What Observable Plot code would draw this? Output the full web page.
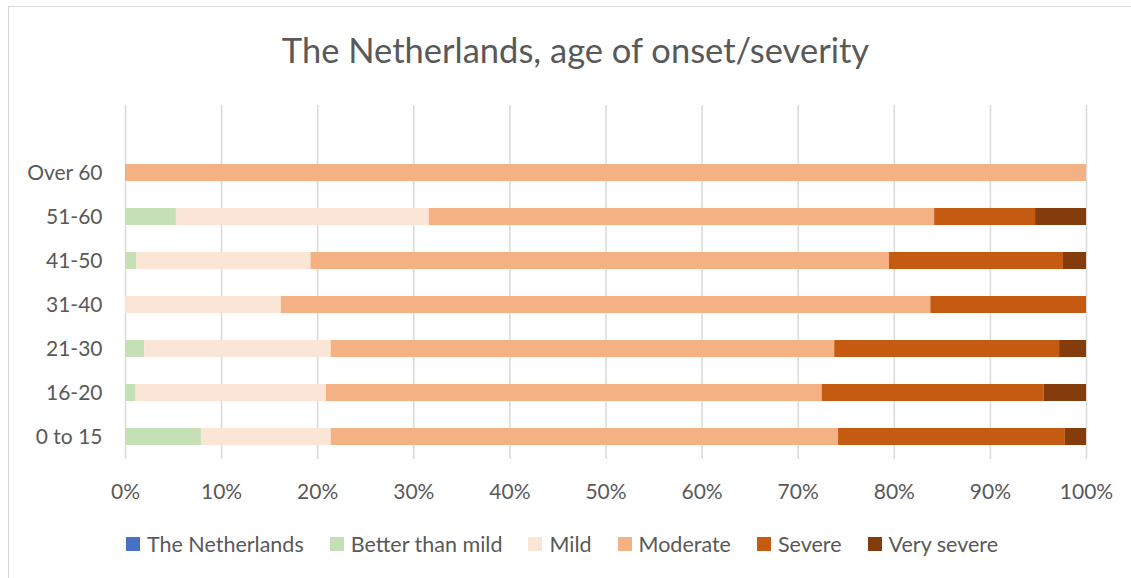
<!DOCTYPE html>
<html>
<head>
<meta charset="utf-8">
<script src="https://cdn.jsdelivr.net/npm/d3@7"></script>
<script src="https://cdn.jsdelivr.net/npm/@observablehq/plot@0.6"></script>
<style>
  html, body { margin: 0; padding: 0; background: #fff; }
  #wrap { position: relative; width: 1131px; height: 578px; overflow: hidden; font-family: Lato, "Open Sans", sans-serif; color: #595959; }
  #frame { position: absolute; left: 8px; top: 6px; width: 1140px; height: 600px; border: 1.5px solid #d9d9d9; box-sizing: border-box; }
  #title { position: absolute; left: 0; width: 1151px; top: 27px; text-align: center; font-size: 34.5px; line-height: 46px; white-space: nowrap; }
  #chart { position: absolute; left: 0; top: 0; }
  #legend { position: absolute; left: 126px; top: 530px; display: flex; align-items: center; font-size: 21.5px; line-height: 28px; white-space: nowrap; }
  .item { display: flex; align-items: center; margin-right: 26px; }
  .sw { width: 14px; height: 14px; margin-right: 7px; }
</style>
</head>
<body>
<div id="wrap">
  <div id="frame"></div>
  <div id="title"></div>
  <div id="chart"></div>
  <div id="legend"></div>
</div>
<script>
// ---- data ----
const titleText = "The Netherlands, age of onset/severity";
const categories = ["Over 60", "51-60", "41-50", "31-40", "21-30", "16-20", "0 to 15"];
const seriesNames = ["The Netherlands", "Better than mild", "Mild", "Moderate", "Severe", "Very severe"];
const seriesColors = ["#4472C4", "#C5E0B4", "#FBE5D6", "#F4B183", "#C55A11", "#843C0C"];
const theNetherlands = [0, 0, 0, 0, 0, 0, 0];
const betterThanMild = [0, 5.3, 1.2, 0, 2.0, 1.1, 7.9];
const mild           = [0, 26.3, 18.1, 16.2, 19.4, 19.8, 13.5];
const moderate       = [100, 52.6, 60.2, 67.6, 52.4, 51.6, 52.8];
const severe         = [0, 10.5, 18.1, 16.2, 23.4, 23.1, 23.6];
const verySevere     = [0, 5.3, 2.4, 0, 2.8, 4.4, 2.2];
const xTicks = [0, 10, 20, 30, 40, 50, 60, 70, 80, 90, 100];

const seriesValues = [theNetherlands, betterThanMild, mild, moderate, severe, verySevere];
const rows = [];
seriesNames.forEach((s, si) => {
  categories.forEach((c, ci) => {
    rows.push({ category: c, series: s, value: seriesValues[si][ci] });
  });
});

document.getElementById("title").textContent = titleText;

const W = 1131, H = 578;
const chart = Plot.plot({
  width: W,
  height: H,
  marginLeft: 125,
  marginRight: 45,
  marginTop: 105,
  marginBottom: 119,
  style: { fontFamily: "Lato, 'Open Sans', sans-serif", fontSize: "21px", color: "#595959", background: "transparent", overflow: "visible" },
  x: { domain: [0, 100] },
  y: { domain: categories, range: [136.44, 473.04], padding: 0.607 },
  color: { domain: seriesNames, range: seriesColors },
  marks: [
    Plot.ruleX(xTicks, { stroke: "#d9d9d9", strokeWidth: 1.5 }),
    Plot.barX(rows, Plot.stackX({ x: "value", y: "category", fill: "series", inset: 0 })),
    Plot.axisX(xTicks, { anchor: "bottom", tickSize: 0, tickPadding: 25, tickFormat: d => d + "%", fontSize: 21, label: null }),
    Plot.axisY({ tickSize: 0, tickPadding: 23, fontSize: 21, label: null })
  ]
});
document.getElementById("chart").appendChild(chart);

const legend = document.getElementById("legend");
seriesNames.forEach((s, i) => {
  const it = document.createElement("div");
  it.className = "item";
  const sw = document.createElement("span");
  sw.className = "sw";
  sw.style.background = seriesColors[i];
  const t = document.createElement("span");
  t.textContent = s;
  it.appendChild(sw);
  it.appendChild(t);
  legend.appendChild(it);
});
</script>
</body>
</html>
